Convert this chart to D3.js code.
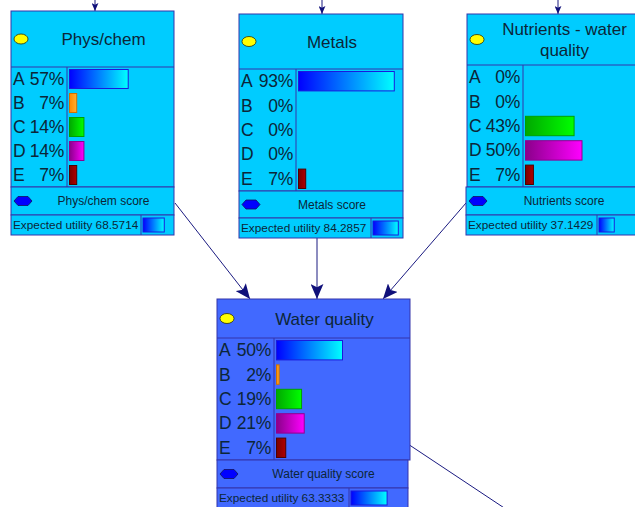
<!DOCTYPE html>
<html>
<head>
<meta charset="utf-8">
<script src="https://cdn.jsdelivr.net/npm/d3@7"></script>
<style>
  body { margin: 0; background: #fff; }
  svg { display: block; font-family: "Liberation Sans", Arial, sans-serif; }
</style>
</head>
<body>
<svg id="chart" width="635" height="507"></svg>
<script>
// data
const nodeNames = ['Phys/chem', 'Metals', 'Nutrients - water quality', 'Water quality'];
const titleLines = [['Phys/chem'], ['Metals'], ['Nutrients - water', 'quality'], ['Water quality']];
const states = ['A', 'B', 'C', 'D', 'E'];
const physChemValues = [57, 7, 14, 14, 7];
const metalsValues = [93, 0, 0, 0, 7];
const nutrientsValues = [0, 0, 43, 50, 7];
const waterQualityValues = [50, 2, 19, 21, 7];
const scoreLabels = ['Phys/chem score', 'Metals score', 'Nutrients score', 'Water quality score'];
const expectedUtility = [68.5714, 84.2857, 37.1429, 63.3333];
const links = [[0, 3], [1, 3], [2, 3]];

const allValues = [physChemValues, metalsValues, nutrientsValues, waterQualityValues];

// where each node box sits
let layout = [
  {x: 11, y: 11, w: 163, titleH: 56, labelW: 56, rowH: 24, scoreH: 28, euH: 20, euW: 130, lx: 0, lw: 0, fill: '#00ccff'},
  {x: 239, y: 14, w: 164, titleH: 55, labelW: 57, rowH: 24.4, scoreH: 27, euH: 20, euW: 132, lx: 0, lw: 0, fill: '#00ccff'},
  {x: 467, y: 14, w: 173, titleH: 51, labelW: 56, rowH: 24.4, scoreH: 28, euH: 20, euW: 130, lx: -1, lw: 0, fill: '#00ccff'},
  {x: 217, y: 299, w: 193, titleH: 39, labelW: 57, rowH: 24.4, scoreH: 28, euH: 20, euW: 132, lx: 0, lw: -2, fill: '#4169ff'}
];

let svg = d3.select('#chart');
let defs = svg.append('defs');

let barColors = [
  ['#0000ff', '#00ffff', '#1a1add'],
  ['#ff8800', '#ffb030', '#d07000'],
  ['#00a800', '#00ff00', '#00a000'],
  ['#8a008a', '#ff00ff', '#900090'],
  ['#7a0000', '#b00000', '#500000']
];

barColors.forEach((c, i) => {
  let g = defs.append('linearGradient').attr('id', 'grad' + i);
  g.append('stop').attr('offset', '0%').attr('stop-color', c[0]);
  g.append('stop').attr('offset', '100%').attr('stop-color', c[1]);
});

let mk = (id, w, h) => {
  defs.append('marker')
    .attr('id', id)
    .attr('viewBox', '0 -6 14 12')
    .attr('refX', 14).attr('refY', 0)
    .attr('markerUnits', 'userSpaceOnUse')
    .attr('markerWidth', w).attr('markerHeight', h)
    .attr('orient', 'auto')
    .append('path')
    .attr('d', 'M0,-6L14,0L0,6L3,0Z')
    .attr('fill', '#10107a');
};
mk('arrow', 15, 13);
mk('arrowSmall', 8, 7);

const lineColor = '#1a1a80';
const border = '#3434aa';
const textColor = '#0c2638';

// edges into Water quality
let target = layout[3];
let linkEnds = [
  {sx: layout[0].x + layout[0].w + 1, sy: layout[0].y + layout[0].titleH + 5 * layout[0].rowH + 16, tx: 250},
  {sx: layout[1].x + 78, sy: layout[1].y + layout[1].titleH + 5 * layout[1].rowH + layout[1].scoreH + layout[1].euH, tx: 317},
  {sx: layout[2].x - 1, sy: layout[2].y + layout[2].titleH + 5 * layout[2].rowH + 16, tx: 383}
];

svg.selectAll('line.link')
  .data(links)
  .enter()
  .append('line')
  .attr('class', 'link')
  .attr('x1', (d, i) => linkEnds[i].sx)
  .attr('y1', (d, i) => linkEnds[i].sy)
  .attr('x2', (d, i) => linkEnds[i].tx)
  .attr('y2', target.y)
  .attr('stroke', lineColor)
  .attr('stroke-width', 1)
  .attr('marker-end', 'url(#arrow)');

// outgoing edge from Water quality, runs off the picture
svg.append('line')
  .attr('x1', target.x + target.w).attr('y1', target.y + target.titleH + 4.4 * target.rowH)
  .attr('x2', target.x + target.w + 140).attr('y2', target.y + target.titleH + 4.4 * target.rowH + 93)
  .attr('stroke', lineColor);

// incoming edges from above the top nodes
let topArrowX = [95, 322, 558];
svg.selectAll('line.top')
  .data(topArrowX)
  .enter()
  .append('line')
  .attr('class', 'top')
  .attr('x1', d => d).attr('y1', -20)
  .attr('x2', d => d).attr('y2', (d, i) => layout[i].y)
  .attr('stroke', lineColor)
  .attr('marker-end', 'url(#arrowSmall)');

let nodes = svg.selectAll('g.node')
  .data(nodeNames)
  .enter()
  .append('g')
  .attr('class', 'node')
  .attr('transform', (d, i) => `translate(${layout[i].x}, ${layout[i].y})`);

nodes.each(function (name, i) {
  let L = layout[i];
  let g = d3.select(this);
  let barsTop = L.titleH;
  let barsH = 5 * L.rowH;
  let scoreTop = barsTop + barsH;
  let euTop = scoreTop + L.scoreH;

  // main box
  g.append('rect')
    .attr('x', 0).attr('y', 0)
    .attr('width', L.w).attr('height', barsTop + barsH)
    .attr('fill', L.fill).attr('stroke', border);
  g.append('line')
    .attr('x1', 0).attr('x2', L.w).attr('y1', barsTop).attr('y2', barsTop)
    .attr('stroke', border);
  g.append('line')
    .attr('x1', L.labelW).attr('x2', L.labelW).attr('y1', barsTop).attr('y2', scoreTop)
    .attr('stroke', border);

  // title
  g.append('ellipse')
    .attr('cx', 10).attr('cy', L.titleH / 2)
    .attr('rx', 7).attr('ry', 5)
    .attr('fill', '#ffff00').attr('stroke', '#303000').attr('stroke-width', 0.8);
  let lines = titleLines[i];
  let lineGap = 21;
  g.selectAll('text.title')
    .data(lines)
    .enter()
    .append('text')
    .attr('class', 'title')
    .attr('x', 22 + (L.w - 22) / 2)
    .attr('y', (d, j) => L.titleH / 2 + 6 + (j - (lines.length - 1) / 2) * lineGap)
    .attr('text-anchor', 'middle')
    .attr('font-size', 17)
    .attr('fill', textColor)
    .text(d => d);

  // state rows
  let yScale = d3.scaleBand()
    .domain(states)
    .range([barsTop, scoreTop]);
  let xScale = d3.scaleLinear()
    .domain([0, 100])
    .range([0, L.w - L.labelW - 4]);

  let values = allValues[i];
  let rows = g.selectAll('g.row')
    .data(states)
    .enter()
    .append('g')
    .attr('class', 'row');

  rows.append('text')
    .attr('x', 2)
    .attr('y', d => yScale(d) + yScale.bandwidth() / 2 + 6)
    .attr('font-size', 17.5)
    .attr('fill', textColor)
    .text(d => d);

  rows.append('text')
    .attr('x', L.labelW - 3)
    .attr('y', d => yScale(d) + yScale.bandwidth() / 2 + 6)
    .attr('text-anchor', 'end')
    .attr('font-size', 17.5)
    .attr('letter-spacing', -0.3)
    .attr('fill', textColor)
    .text((d, j) => values[j] + '%');

  rows.filter((d, j) => values[j] > 0)
    .append('rect')
    .attr('x', L.labelW + 2.5)
    .attr('y', d => yScale(d) + 2.5)
    .attr('width', (d) => xScale(values[states.indexOf(d)]))
    .attr('height', yScale.bandwidth() - 5)
    .attr('fill', d => `url(#grad${states.indexOf(d)})`)
    .attr('stroke', d => barColors[states.indexOf(d)][2])
    .attr('stroke-width', 1);

  // utility node
  let lw = L.w + L.lw - L.lx;
  g.append('rect')
    .attr('x', L.lx).attr('y', scoreTop)
    .attr('width', lw).attr('height', L.scoreH)
    .attr('fill', L.fill).attr('stroke', border);
  let hx = L.lx + 12, hy = scoreTop + L.scoreH / 2;
  g.append('path')
    .attr('d', `M${hx - 9},${hy}L${hx - 5},${hy - 4.5}L${hx + 5},${hy - 4.5}L${hx + 9},${hy}L${hx + 5},${hy + 4.5}L${hx - 5},${hy + 4.5}Z`)
    .attr('fill', '#0000ff').attr('stroke', '#101060').attr('stroke-width', 0.8);
  g.append('text')
    .attr('x', L.lx + 22 + (lw - 22) / 2)
    .attr('y', hy + 4)
    .attr('text-anchor', 'middle')
    .attr('font-size', 12)
    .attr('fill', textColor)
    .text(scoreLabels[i]);

  // expected utility row
  g.append('rect')
    .attr('x', L.lx).attr('y', euTop)
    .attr('width', lw).attr('height', L.euH)
    .attr('fill', L.fill).attr('stroke', border);
  g.append('line')
    .attr('x1', L.euW).attr('x2', L.euW).attr('y1', euTop).attr('y2', euTop + L.euH)
    .attr('stroke', border);
  g.append('text')
    .attr('x', L.lx + 2)
    .attr('y', euTop + L.euH / 2 + 4)
    .attr('font-size', 11.8)
    .attr('fill', textColor)
    .text('Expected utility ' + expectedUtility[i]);
  let euScale = d3.scaleLinear()
    .domain([0, 100])
    .range([0, L.lx + lw - L.euW - 2]);
  g.append('rect')
    .attr('x', L.euW + 2)
    .attr('y', euTop + 3)
    .attr('width', euScale(expectedUtility[i]))
    .attr('height', L.euH - 6)
    .attr('fill', 'url(#grad0)')
    .attr('stroke', '#1a1add');
});
</script>
</body>
</html>
